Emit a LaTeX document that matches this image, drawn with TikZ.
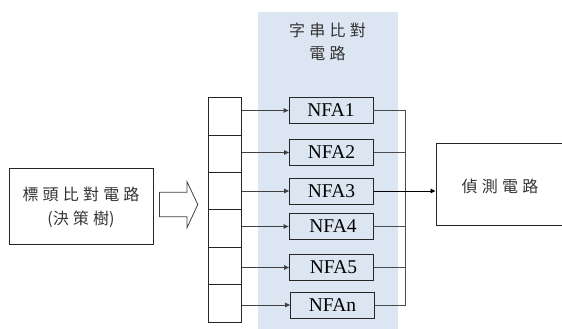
\documentclass[tikz,border=0pt]{standalone}
\usepackage{fontspec}
\setmainfont{Liberation Serif}
\newfontfamily\cjk{Noto Sans CJK TC}
\newcommand\cjkgap{\hspace{4.2pt}}
\usetikzlibrary{arrows.meta}
\definecolor{bandblue}{RGB}{220,230,242}
\begin{document}
\begin{tikzpicture}[x=1pt,y=-1pt,
  box/.style={draw=black!85,line width=0.8pt,rectangle,inner sep=0pt},
  nfa/.style={box,minimum width=84pt,minimum height=26pt,font=\fontsize{19.5}{20}\selectfont},
  cell/.style={box,minimum width=33pt,minimum height=37.4pt},
  wire/.style={draw=black!70,line width=0.8pt},
  feed/.style={wire,-{Triangle[length=5pt,width=4.5pt]},draw=black!75},
  cjktext/.style={font=\cjk\fontsize{16}{24}\selectfont,text=black!80,align=center}]
\useasboundingbox (0,0) rectangle (562,329);

% background band of the string-matching stage
\fill[bandblue] (258,12) rectangle (398,329);
\node[cjktext,font=\cjk\fontsize{16}{23}\selectfont] (title) at (327.5,42)
  {字\cjkgap 串\cjkgap 比\cjkgap 對\\電\cjkgap 路};

% header-matching block
\node[box,minimum width=144.5pt,minimum height=76pt] (hdr) at (81.2,206.3) {};
\node[cjktext] (hdrtxt) at (81,207.5)
  {標\cjkgap 頭\cjkgap 比\cjkgap 對\cjkgap 電\cjkgap 路\\(決\cjkgap 策\cjkgap 樹)};

% hollow block arrow
\draw[black!75,line width=0.8pt,fill=white]
  (159.5,192.3) -- (187,192.3) -- (187,181.7) -- (197.8,204.5)
  -- (187,227.7) -- (187,216.7) -- (159.5,216.7) -- cycle;

% dispatch buffer
\foreach \i in {1,...,6}
  \node[cell] (c\i) at (225,{97.5+37.4*(\i-0.5)}) {};

% NFA engines
\node[nfa] (n1) at (331,110.5) {NFA1};
\node[nfa] (n2) at (331.5,152.5) {NFA2};
\node[nfa] (n3) at (331.5,191) {NFA3};
\node[nfa] (n4) at (331,226.5) {\hspace{4pt}NFA4};
\node[nfa] (n5) at (331.5,267.5) {\hspace{4pt}NFA5};
\node[nfa] (nn) at (332.5,305) {NFAn};

% detection block, running off the right edge
\node[box,minimum width=150pt,minimum height=82.4pt,anchor=west] (det) at (435.5,184.5) {};
\node[cjktext] (dettxt) at (500,186.5) {偵\cjkgap 測\cjkgap 電\cjkgap 路};

% buffer to NFA feeds
\foreach \k/\j in {1/1,2/2,3/3,4/4,5/5,n/6}
  \draw[feed] (c\j.east |- n\k.west) -- (n\k.west);

% collecting bus
\coordinate (bus) at (405,0);
\draw[wire] (n1.east) -| (bus |- nn.east) -- (nn.east);
\foreach \k in {2,4,5}
  \draw[wire] (n\k.east) -- (bus |- n\k.east);
\draw[feed,draw=black] (n3.east) -- (det.west |- n3.east);
\end{tikzpicture}
\end{document}
